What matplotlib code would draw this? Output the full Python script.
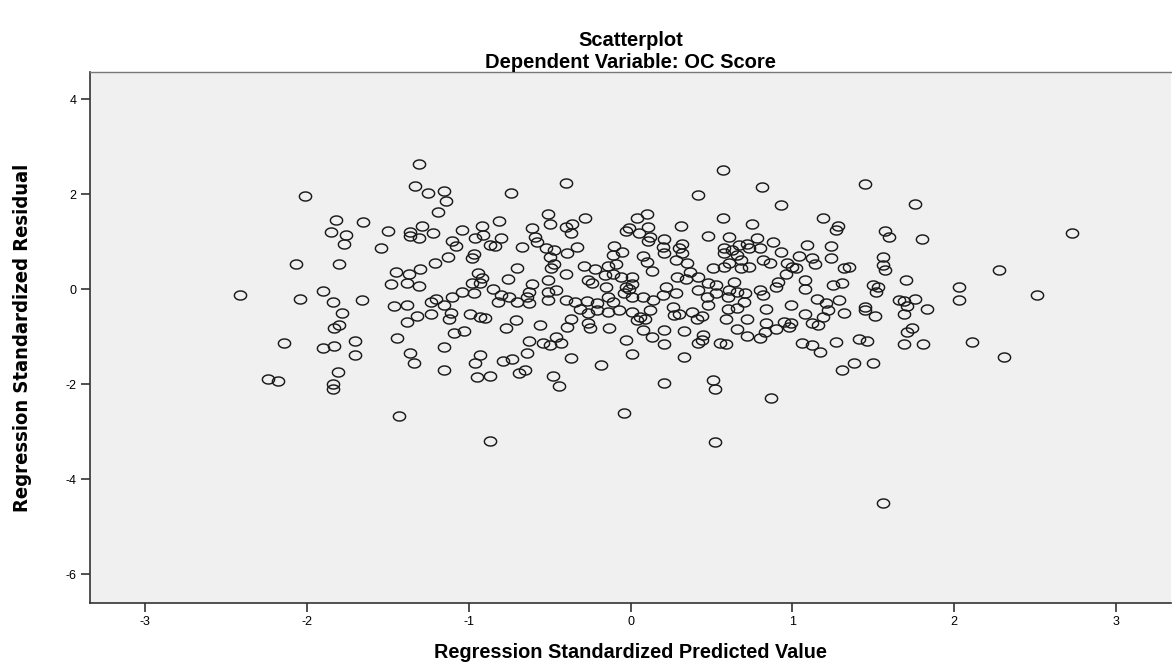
import matplotlib
matplotlib.use("Agg")
import matplotlib.pyplot as plt
from matplotlib.path import Path
import numpy as np

# Regression standardized predicted value (x) and standardized residual (y)
pred = [
    -1.31, -1.33, -1.25, -2.01, -1.19, -1.82, -1.65, -1.85, -1.76, -1.77,
    -1.50, -1.54, -1.36, -1.29, -1.22, -1.36, -1.31, -2.07, -1.80, -1.21,
    -1.45, -1.37, -1.30, -1.48, -1.38, -1.31, -2.41, -2.04, -1.90, -1.84,
    -1.66, -1.46, -1.38, -1.23, -1.78,
    -1.83, -1.80, -2.14, -1.90, -1.83, -1.70, -1.70, -1.20, -1.32, -1.23,
    -1.38, -1.44, -1.36, -1.34, -1.81, -2.24, -2.18, -1.84, -1.84, -1.43,
    -0.40, -0.74, -1.15, -1.14, -0.51, -0.50, -0.81, -0.92, -1.04, -0.28,
    -0.36, -0.40, -0.37, -0.61, -0.59, -0.58, -0.96, -0.91, -0.80, -1.10,
    -1.08, -0.87, -0.84, -0.67, -0.52, -0.47, -0.39, -0.33, -1.13, -0.97,
    -0.98, -0.50, -0.47, -0.49, -0.70, -0.40, -0.29, -0.22, -0.14, -0.11,
    -0.05, -0.10, -0.09, -0.11, -0.16, -0.24, -0.26, -0.15, -0.06, 0.01,
    0.01, -0.03, 0.04, 0.10, -0.01, -0.03, 0.05, 0.11, 0.12, 0.11,
    0.08, 0.10, 0.13, -0.94, -0.92, -0.93, -0.98, -0.76, -0.61, -0.63,
    -0.64, -0.85, -0.80, -0.75, -1.04, -0.97, -1.10, -1.15, -0.51, -0.51,
    -0.46, -0.51, -0.40, -0.34, -0.27, -0.21, -0.14, -0.11, -0.04, -0.01,
    0.01, 0.08, 0.14, -0.70, -0.63, -0.82,
    -1.11, -1.12, -0.99, -0.93, -0.90, -1.09, -1.03, -1.15, -1.15, -0.96,
    -0.93, -0.95, -0.87, -0.79, -0.73, -0.77, -0.71, -0.69, -0.65, -0.64,
    -0.63, -0.56, -0.54, -0.50, -0.46, -0.43, -0.48, -0.44, -0.37, -0.39,
    -0.37, -0.87, -0.31, -0.26, -0.21, -0.14, -0.07, -0.26, -0.25, -0.13,
    -0.18, -0.04, -0.03, 0.01, 0.01, 0.06, 0.04, 0.09, 0.08, 0.13,
    0.12, 0.21,
    0.57, 0.42, 0.81, 0.93, 1.45, 0.57, 0.75, 1.19, 1.28, 1.27,
    0.31, 0.48, 0.61, 0.78, 0.88, 1.09, 1.24, 1.57, 0.21, 0.20,
    0.21, 0.32, 0.30, 0.32, 0.58, 0.58, 0.63, 0.67, 0.72, 0.73,
    0.66, 0.68, 0.61, 0.58, 0.80, 0.82, 0.86, 0.93, 0.97, 1.00,
    1.02, 1.04, 1.12, 1.14, 1.24, 1.32, 1.35, 0.28, 0.35, 0.51,
    0.68, 0.73, 0.37, 0.29, 0.34, 0.42, 0.96, 1.08, 1.08, 0.91,
    0.90, 0.48, 0.53, 0.64, 1.25, 1.31, 1.50, 1.53, 0.22, 0.28,
    0.20, 0.42, 0.61, 0.66, 0.71, 0.80, 0.82, 0.47, 0.60, 0.70,
    0.99, 1.15, 1.29, 1.21, 1.45, 1.52, 0.48, 0.26, 0.53,
    0.21, 0.21, 0.33, 0.45, 0.44, 0.42, 0.33, 0.55, 0.59, 0.51,
    0.52, 0.87, 0.52, 0.66, 0.72, 0.80, 0.83, 0.90, 0.84, 0.95,
    0.99, 0.98, 0.72, 0.84, 1.08, 1.12, 1.16, 1.19, 1.22, 1.32,
    1.45, 1.51, 1.27, 1.06, 1.12, 1.17, 1.31, 1.38, 1.50, 1.41,
    1.46, 0.59, 0.60, 0.66, 0.38, 0.41, 0.44, 0.27, 0.30,
    1.76, 2.73, 1.60, 1.80, 1.56, 1.56, 1.57, 2.28, 1.70, 2.03,
    2.03, 2.51, 1.66, 1.69, 1.76, 1.71, 1.83,
    1.69, 1.71, 1.74, 1.69, 1.81, 2.11, 2.31, 1.56,
]

resid = [
    2.63, 2.18, 2.03, 1.95, 1.62, 1.45, 1.42, 1.20, 1.14, 0.95,
    1.22, 0.87, 1.21, 1.33, 1.19, 1.12, 1.08, 0.53, 0.52, 0.54,
    0.36, 0.31, 0.43, 0.11, 0.13, 0.07, -0.12, -0.21, -0.04, -0.27,
    -0.22, -0.35, -0.34, -0.27, -0.50,
    -0.81, -0.76, -1.14, -1.24, -1.19, -1.10, -1.38, -0.20, -0.57, -0.53,
    -0.70, -1.03, -1.35, -1.55, -1.75, -1.89, -1.93, -2.00, -2.10, -2.67,
    2.23, 2.02, 2.06, 1.86, 1.58, 1.37, 1.43, 1.33, 1.24, 1.49,
    1.38, 1.31, 1.19, 1.29, 1.10, 1.00, 1.08, 1.14, 1.07, 1.02,
    0.91, 0.93, 0.91, 0.88, 0.86, 0.82, 0.75, 0.89, 0.67, 0.73,
    0.65, 0.67, 0.53, 0.44, 0.44, 0.31, 0.49, 0.42, 0.48, 0.72,
    0.77, 0.91, 0.53, 0.32, 0.29, 0.12, 0.19, 0.05, 0.26, 0.26,
    0.10, 0.05, 1.50, 1.59, 1.29, 1.22, 1.17, 1.30, 1.10, 1.02,
    0.69, 0.57, 0.39, 0.34, 0.23, 0.12, 0.12, 0.21, 0.11, -0.06,
    -0.16, 0.00, -0.13, -0.16, -0.06, -0.08, -0.17, -0.34, 0.20, -0.06,
    -0.02, -0.23, -0.23, -0.27, -0.25, -0.29, -0.16, -0.27, -0.09, 0.01,
    -0.16, -0.16, -0.23, -0.27, -0.30, -0.27,
    -0.51, -0.62, -0.53, -0.58, -0.60, -0.92, -0.88, -1.23, -1.71, -1.55,
    -1.39, -1.85, -1.83, -1.51, -1.47, -0.81, -0.65, -1.76, -1.71, -1.34,
    -1.09, -0.76, -1.14, -1.18, -1.00, -1.13, -1.83, -2.04, -1.46, -0.79,
    -0.64, -3.20, -0.41, -0.51, -0.44, -0.48, -0.44, -0.72, -0.83, -0.81,
    -1.60, -2.62, -1.07, -1.37, -0.48, -0.58, -0.65, -0.62, -0.86, -1.00,
    -0.44, -1.97,
    2.51, 1.98, 2.15, 1.77, 2.21, 1.50, 1.37, 1.50, 1.33, 1.24,
    1.33, 1.12, 1.10, 1.07, 1.00, 0.93, 0.91, 1.22, 1.05, 0.89,
    0.76, 0.95, 0.86, 0.76, 0.86, 0.75, 0.82, 0.93, 0.95, 0.86,
    0.72, 0.61, 0.54, 0.47, 0.86, 0.61, 0.55, 0.79, 0.55, 0.47,
    0.44, 0.69, 0.65, 0.53, 0.65, 0.44, 0.47, 0.61, 0.55, 0.45,
    0.44, 0.47, 0.36, 0.26, 0.21, 0.26, 0.32, 0.20, 0.01, 0.15,
    0.05, 0.12, 0.08, 0.15, 0.08, 0.13, 0.08, 0.05, 0.05, -0.09,
    -0.13, -0.02, -0.02, -0.06, -0.08, -0.02, -0.13, -0.16, -0.16, -0.27,
    -0.34, -0.20, -0.23, -0.30, -0.37, -0.06, -0.34, -0.37, -0.09,
    -0.86, -1.16, -0.88, -0.97, -1.07, -1.14, -1.43, -1.13, -1.16, -1.92,
    -2.11, -2.29, -3.21, -0.85, -0.99, -1.04, -0.90, -0.85, -0.71, -0.69,
    -0.72, -0.79, -0.62, -0.43, -0.53, -0.72, -0.76, -0.58, -0.44, -0.51,
    -0.44, -0.57, -1.12, -1.13, -1.18, -1.32, -1.71, -1.56, -1.56, -1.05,
    -1.09, -0.62, -0.42, -0.39, -0.48, -0.64, -0.57, -0.55, -0.53,
    1.80, 1.17, 1.09, 1.05, 0.68, 0.51, 0.40, 0.41, 0.20, 0.05,
    -0.23, -0.13, -0.23, -0.25, -0.21, -0.36, -0.41,
    -0.53, -0.90, -0.83, -1.16, -1.16, -1.11, -1.44, -4.50,
]

x_ticks = [-3, -2, -1, 0, 1, 2, 3]
y_ticks = [-6, -4, -2, 0, 2, 4]

W, H = 1172, 668
fig = plt.figure(figsize=(W / 100, H / 100), dpi=100)
fig.patch.set_facecolor("white")

left, right, top, bottom = 90, 1171, 72, 603
ax = fig.add_axes([left / W, 1 - bottom / H, (right - left) / W, (bottom - top) / H])
ax.set_facecolor("#F0F0F0")

# slightly flattened open circle, like SPSS markers
t = np.linspace(0, 2 * np.pi, 60)
ell = Path(np.column_stack([np.cos(t), 0.74 * np.sin(t)]), closed=True)

ax.plot(pred, resid, linestyle="none", marker=ell, markersize=8.8,
        markerfacecolor="none", markeredgecolor="#1a1a1a", markeredgewidth=1.05)

ax.set_xlim(-3.34, 3.34)
ax.set_ylim(-6.61, 4.57)
ax.set_xticks(x_ticks)
ax.set_yticks(y_ticks)
ax.set_xticklabels([str(v) for v in x_ticks])
ax.set_yticklabels([str(v) for v in y_ticks])

for s in ["left", "bottom"]:
    ax.spines[s].set_color("#333333")
    ax.spines[s].set_linewidth(1.2)
ax.spines["top"].set_color("#777777")
ax.spines["top"].set_linewidth(1.0)
ax.spines["right"].set_visible(False)

ax.tick_params(axis="both", direction="out", length=6.5, width=1.2, color="#333333",
               labelsize=9, labelcolor="black", pad=3)
for lab in ax.get_xticklabels() + ax.get_yticklabels():
    lab.set_family(["Liberation Sans", "DejaVu Sans"])

cx = (left + right) / 2 / W
fig.text(cx, 1 - 41 / H, "Scatterplot", ha="center", va="center",
         fontsize=14.5, fontweight="bold", family=["Liberation Sans", "DejaVu Sans"])
fig.text(cx, 1 - 63 / H, "Dependent Variable: OC Score", ha="center", va="center",
         fontsize=14.5, fontweight="bold", family=["Liberation Sans", "DejaVu Sans"])
fig.text(cx, 1 - 652 / H, "Regression Standardized Predicted Value", ha="center",
         va="center", fontsize=14.3, fontweight="bold",
         family=["Liberation Sans", "DejaVu Sans"])
fig.text(23 / W, 1 - 338 / H, "Regression Standardized Residual", ha="center",
         va="center", rotation=90, fontsize=14.5, fontweight="bold",
         fontstretch="condensed", family=["DejaVu Sans"])

fig.savefig("out.png", dpi=100)
